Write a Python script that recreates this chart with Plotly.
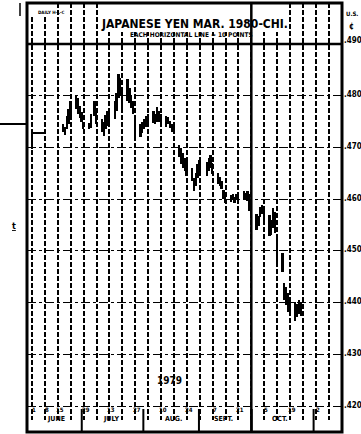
import plotly.graph_objects as go
import pandas as pd

# ---------------- data ----------------
dates = [
    "1979-06-18", "1979-06-19", "1979-06-20", "1979-06-21", "1979-06-22",
    "1979-06-25", "1979-06-26", "1979-06-27", "1979-06-28", "1979-06-29",
    "1979-07-02", "1979-07-03", "1979-07-05", "1979-07-06",
    "1979-07-09", "1979-07-10", "1979-07-11", "1979-07-12", "1979-07-13",
    "1979-07-16", "1979-07-17", "1979-07-18", "1979-07-19", "1979-07-20",
    "1979-07-23", "1979-07-24", "1979-07-25", "1979-07-26", "1979-07-27",
    "1979-07-30", "1979-07-31", "1979-08-01", "1979-08-02", "1979-08-03",
    "1979-08-06", "1979-08-07", "1979-08-08", "1979-08-09", "1979-08-10",
    "1979-08-13", "1979-08-14", "1979-08-15", "1979-08-16", "1979-08-17",
    "1979-08-20", "1979-08-21", "1979-08-22", "1979-08-23", "1979-08-24",
    "1979-08-27", "1979-08-28", "1979-08-29", "1979-08-30", "1979-08-31",
    "1979-09-04", "1979-09-05", "1979-09-06", "1979-09-07",
    "1979-09-10", "1979-09-11", "1979-09-12", "1979-09-13", "1979-09-14",
    "1979-09-17", "1979-09-18", "1979-09-19", "1979-09-20", "1979-09-21",
    "1979-09-24", "1979-09-25", "1979-09-26", "1979-09-27", "1979-09-28",
    "1979-10-01", "1979-10-02", "1979-10-03", "1979-10-04", "1979-10-05",
    "1979-10-08", "1979-10-09", "1979-10-10", "1979-10-11", "1979-10-12",
    "1979-10-15", "1979-10-16", "1979-10-17", "1979-10-18", "1979-10-19",
    "1979-10-22", "1979-10-23", "1979-10-24", "1979-10-25",
]
highs = [
    .4745, .4740, .4760, .4775, .4790,
    .4800, .4795, .4780, .4768, .4750,
    .4748, .4765, .4790, .4775,
    .4755, .4750, .4762, .4770, .4775,
    .4790, .4805, .4842, .4835, .4810,
    .4833, .4815, .4800, .4790, .4755,
    .4745, .4750, .4755, .4760, .4765,
    .4770, .4765, .4778, .4770, .4765,
    .4760, .4758, .4752, .4745, .4740,
    .4705, .4698, .4690, .4680, .4672,
    .4660, .4640, .4650, .4668, .4675,
    .4672, .4680, .4685, .4670,
    .4650, .4642, .4635, .4618, .4612,
    .4608, .4610, .4605, .4610, .4612,
    .4615, .4612, .4615, .4610, .4595,
    .4572, .4568, .4585, .4588, .4582,
    .4570, .4560, .4582, .4575, .4530,
    .4495, .4438, .4430, .4418, .4405,
    .4402, .4398, .4405, .4400,
]
lows = [
    .4730, .4725, .4735, .4745, .4760,
    .4775, .4765, .4756, .4750, .4735,
    .4735, .4738, .4760, .4745,
    .4730, .4722, .4735, .4742, .4750,
    .4755, .4770, .4795, .4800, .4772,
    .4790, .4785, .4777, .4765, .4715,
    .4720, .4728, .4735, .4740, .4742,
    .4748, .4745, .4750, .4750, .4745,
    .4740, .4745, .4738, .4730, .4728,
    .4682, .4668, .4660, .4655, .4645,
    .4635, .4615, .4625, .4640, .4650,
    .4645, .4655, .4660, .4648,
    .4630, .4625, .4620, .4600, .4592,
    .4595, .4598, .4592, .4598, .4600,
    .4600, .4598, .4596, .4578, .4565,
    .4540, .4548, .4565, .4572, .4555,
    .4528, .4530, .4545, .4535, .4470,
    .4460, .4405, .4395, .4382, .4378,
    .4365, .4372, .4378, .4375,
]
# opening reference line
open_dates = ["1979-06-01", "1979-06-01", "1979-06-08"]
open_vals = [.4697, .4728, .4728]

price_levels = [.420, .430, .440, .450, .460, .470, .480]
price_labels = [".420", ".430", ".440", ".450", ".460", ".470", ".480"]
top_level = .490
top_label = ".490"

label_dates = ["1979-06-01", "1979-06-08", "1979-06-15", "1979-06-29", "1979-07-13",
               "1979-07-27", "1979-08-10", "1979-08-24", "1979-09-07", "1979-09-21",
               "1979-10-05", "1979-10-19", "1979-11-02"]
label_text = ["1", "8", "15", "29", "13", "27", "10", "24", "7", "21", "5", "19", "2"]
month_names = ["JUNE", "JULY", "AUG.", "SEPT.", "OCT."]
month_centers = ["1979-06-14", "1979-07-14", "1979-08-17", "1979-09-13", "1979-10-13 14:00"]
month_breaks = ["1979-06-28", "1979-07-31 10:00", "1979-08-30 14:00", "1979-09-28 05:00", "1979-10-31 19:00"]

title = "JAPANESE YEN MAR. 1980-CHI."
subtitle = "EACH HORIZONTAL LINE = 10 POINTS"
year_text = "1979"

# ---------------- geometry helpers ----------------
W, H = 361, 434
L, R, T, B = 27, 19, 3, 2
PW, PH = W - L - R, H - T - B


def px(xp):
    return (xp - L) / PW


def py(yp):
    return (H - B - yp) / PH


t0 = pd.Timestamp("1979-06-01")
ppd = 1.843  # px per day
x_lo = t0 + pd.Timedelta(days=(L - 32) / ppd)
x_hi = t0 + pd.Timedelta(days=(L + PW - 32) / ppd)
Y420 = 406.0
ppu = (Y420 - 44.0) / 0.07  # px per unit price
y_lo = .420 - ((H - B) - Y420) / ppu
y_hi = .420 + (Y420 - T) / ppu

fridays = pd.date_range("1979-06-01", "1979-11-09", freq="W-FRI")

FONT = "DejaVu Sans Condensed, Liberation Sans Narrow, DejaVu Sans"

fig = go.Figure()
fig.add_trace(go.Bar(
    x=dates, y=[h - l for h, l in zip(highs, lows)], base=lows,
    width=0.95 * 86400000, marker=dict(color="black", line=dict(width=0)),
    showlegend=False, hoverinfo="skip"))
fig.add_trace(go.Scatter(
    x=open_dates, y=open_vals, mode="lines",
    line=dict(color="black", width=2), showlegend=False, hoverinfo="skip"))

shapes = []
# title box (hides grid)
shapes.append(dict(type="rect", xref="paper", yref="paper", x0=px(98), x1=px(289),
                   y0=py(32), y1=1, fillcolor="white", line=dict(width=0), layer="above"))
# month strip (hides grid)
shapes.append(dict(type="rect", xref="paper", yref="paper", x0=0, x1=1,
                   y0=0, y1=py(420), fillcolor="white", line=dict(width=0), layer="above"))
# top small box (hides grid)
shapes.append(dict(type="rect", xref="paper", yref="paper", x0=px(20), x1=px(52),
                   y0=py(16), y1=1, fillcolor="white", line=dict(width=0), layer="above"))
# .490 line
shapes.append(dict(type="line", xref="paper", yref="y", x0=0, x1=1, y0=top_level, y1=top_level,
                   line=dict(color="black", width=2.5), layer="above"))
# solid Sept/Oct line
shapes.append(dict(type="line", xref="x", yref="paper", x0="1979-09-28", x1="1979-09-28",
                   y0=0, y1=1, line=dict(color="black", width=2.5), layer="above"))
# month separators
for mb in month_breaks:
    shapes.append(dict(type="line", xref="x", yref="paper", x0=mb, x1=mb,
                       y0=0, y1=py(409), line=dict(color="black", width=2), layer="above"))
# frame
shapes.append(dict(type="rect", xref="paper", yref="paper", x0=0, x1=1, y0=0, y1=1,
                   line=dict(color="black", width=3), layer="above"))
shapes.append(dict(type="line", xref="paper", yref="paper", x0=px(20), x1=px(20), y0=py(16), y1=1,
                   line=dict(color="black", width=1.5), layer="above"))
# stray mark left of frame
shapes.append(dict(type="line", xref="paper", yref="paper", x0=px(0), x1=px(26), y0=py(124), y1=py(124),
                   line=dict(color="black", width=2), layer="above"))

ann = []
ann.append(dict(text=title, xref="paper", yref="paper", x=px(194), y=py(15), showarrow=False,
                font=dict(family=FONT, size=12, color="black", weight="bold")))
ann.append(dict(text=subtitle, xref="paper", yref="paper", x=px(191), y=py(29), showarrow=False,
                font=dict(family=FONT, size=6.5, color="black", weight="bold")))
ann.append(dict(text="DAILY H-L-C", xref="paper", yref="paper", x=px(36), y=py(8), showarrow=False,
                font=dict(family=FONT, size=4.5, color="black", weight="bold")))
for lv, lb in zip(price_levels, price_labels):
    ann.append(dict(text=lb, xref="paper", yref="y", x=1, y=lv, xanchor="left", yanchor="middle",
                    xshift=0, yshift=1, showarrow=False,
                    font=dict(family=FONT, size=8, color="black", weight="bold")))
ann.append(dict(text=top_label, xref="paper", yref="y", x=1, y=top_level, xanchor="left",
                yanchor="middle", xshift=0, yshift=4, showarrow=False,
                font=dict(family=FONT, size=8, color="black", weight="bold")))
ann.append(dict(text="U.S.", xref="paper", yref="paper", x=1, y=py(8), xanchor="left", xshift=2,
                showarrow=False, font=dict(family=FONT, size=6, color="black", weight="bold")))
ann.append(dict(text="¢", xref="paper", yref="paper", x=1, y=py(20), xanchor="left", xshift=5,
                showarrow=False, font=dict(family=FONT, size=8, color="black", weight="bold")))
for d, t in zip(label_dates, label_text):
    ann.append(dict(text=t, xref="x", yref="paper", x=d, y=py(415), xshift=2, showarrow=False,
                    font=dict(family=FONT, size=6, color="black", weight="bold")))
for d, t in zip(month_centers, month_names):
    ann.append(dict(text=t, xref="x", yref="paper", x=d, y=py(425), showarrow=False,
                    font=dict(family=FONT, size=7, color="black", weight="bold")))
ann.append(dict(text=year_text, xref="paper", yref="paper", x=px(169), y=py(388), showarrow=False,
                font=dict(family=FONT, size=10, color="black", weight="bold")))
ann.append(dict(text="<u>t</u>", xref="paper", yref="paper", x=px(10), y=py(226), showarrow=False,
                font=dict(family=FONT, size=9, color="black", weight="bold")))

fig.update_layout(
    width=W, height=H,
    margin=dict(l=L, r=R, t=T, b=B),
    paper_bgcolor="white", plot_bgcolor="white",
    showlegend=False, bargap=0,
    shapes=shapes, annotations=ann,
    xaxis=dict(type="date", range=[x_lo, x_hi], tickvals=list(fridays), showticklabels=False,
               ticks="", showgrid=True, gridcolor="black", gridwidth=1.6, griddash="5px,2px",
               zeroline=False, showline=False, fixedrange=True),
    yaxis=dict(range=[y_lo, y_hi], tickvals=price_levels, showticklabels=False, ticks="",
               showgrid=True, gridcolor="black", gridwidth=1.4, griddash="dashdot",
               zeroline=False, showline=False, fixedrange=True),
)

fig.write_html("out.html", config={"displayModeBar": False},
               post_script="document.body.style.margin='0';document.body.style.padding='0';")
